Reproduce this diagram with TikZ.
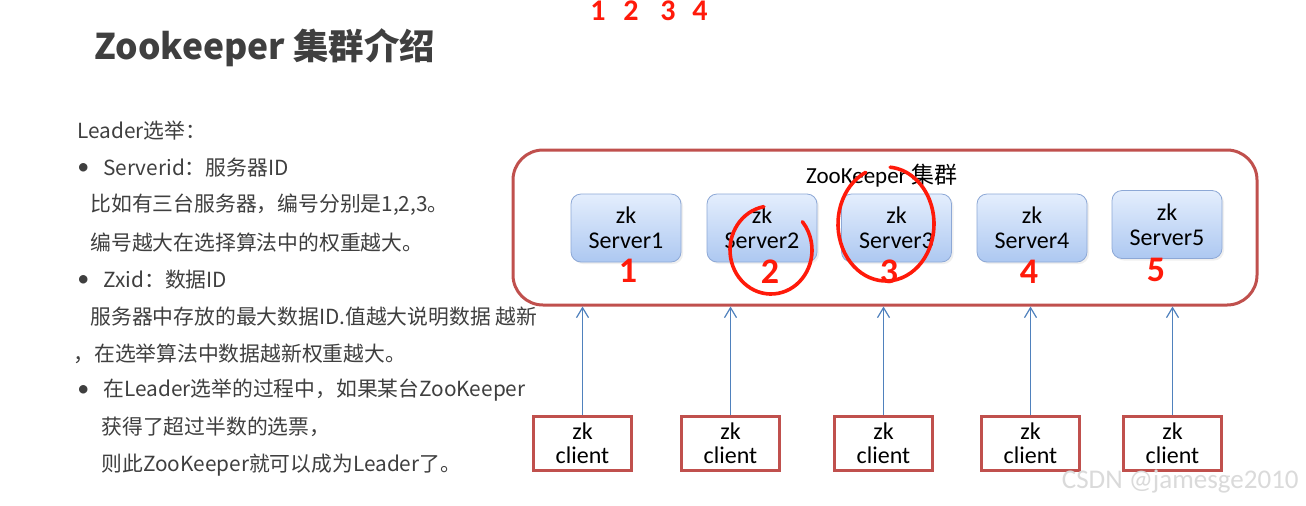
\documentclass[tikz,border=0pt]{standalone}
\usepackage{fontspec}
\setmainfont{Carlito}
\newfontfamily\cjk{Noto Sans CJK SC}
\usetikzlibrary{arrows.meta,positioning,calc,shadows}
\definecolor{ink}{HTML}{3F3F3F}
\definecolor{brick}{HTML}{C0504D}
\definecolor{steel}{HTML}{4F81BD}
\definecolor{skytop}{HTML}{E4EEFD}
\definecolor{skybot}{HTML}{ADC8F1}
\definecolor{skyedge}{HTML}{8DA8D6}
\definecolor{pen}{HTML}{FF1A0A}
\definecolor{mark}{HTML}{DADADA}
\tikzset{
  body/.style={anchor=west,text=ink,inner sep=0pt,font=\cjk\fontsize{10.4}{12}\selectfont},
  dot/.style={anchor=west,text=ink,inner sep=0pt,font=\fontsize{12}{12}\selectfont},
  serverbox/.style={draw=skyedge,top color=skytop,bottom color=skybot,rounded corners=5pt,
    minimum width=55pt,minimum height=34pt,inner sep=0pt,align=center,
    drop shadow={opacity=0.12,shadow xshift=1pt,shadow yshift=-1pt},
    font=\fontsize{12}{12.5}\selectfont},
  clientbox/.style={draw=brick,line width=1.5pt,fill=white,minimum width=49pt,minimum height=27pt,
    inner sep=0pt,align=center,font=\fontsize{12}{12}\selectfont},
  feed/.style={-{Straight Barb[length=5pt,width=6pt]},steel,line width=0.6pt},
  scrawl/.style={text=pen,inner sep=0pt,font=\bfseries\fontsize{18}{18}\selectfont},
  penline/.style={pen,line width=1.8pt,line cap=round}
}
\begin{document}
\begin{tikzpicture}[x=0.5pt,y=-0.5pt]
\useasboundingbox[fill=white] (0,0) rectangle (1306,505);

\node[anchor=west,text=ink,inner sep=0pt,font=\cjk\bfseries\fontsize{17.7}{20}\selectfont] (title) at (94,48) {Zookeeper 集群介绍};

\node[body] (l1) at (77,131) {Leader选举：};
\node[dot] (b1) at (77,169) {•};
\node[body] (l2) at (103,168) {Serverid：服务器ID};
\node[body] (l3) at (90,205) {比如有三台服务器，编号分别是1,2,3。};
\node[body] (l4) at (90,243) {编号越大在选择算法中的权重越大。};
\node[dot] (b2) at (77,281) {•};
\node[body] (l5) at (103,280) {Zxid：数据ID};
\node[body] (l6) at (90,317) {服务器中存放的最大数据ID.值越大说明数据 越新};
\node[body] (l7) at (73,354) {，在选举算法中数据越新权重越大。};
\node[dot] (b3) at (77,391) {•};
\node[body] (l8) at (103,390) {在Leader选举的过程中，如果某台ZooKeeper};
\node[body] (l9) at (101,427) {获得了超过半数的选票，};
\node[body] (l10) at (101,465) {则此ZooKeeper就可以成为Leader了。};

\node[draw=brick,line width=1.5pt,rounded corners=15pt,minimum width=372pt,minimum height=77.5pt,inner sep=0pt] (cluster) at (885,227.5) {};
\node[font=\fontsize{11.5}{12}\selectfont,inner sep=0pt] (ctitle) at (882,176) {ZooKeeper {\cjk 集群}};

\foreach \n/\x/\y in {1/626/228,2/762/228,3/896.5/228,4/1032/228,5/1167/224.5}
  \node[serverbox] (s\n) at (\x,\y) {zk\\Server\n};

\foreach \n/\x in {1/582.5,2/730.5,3/883.5,4/1030.5,5/1172.5}{
  \node[clientbox] (c\n) at (\x,443) {zk\\client};
  \draw[feed] (c\n.north) -- (c\n.north |- cluster.south);
}

\draw[penline] (771,250) ++(-100:41 and 44) arc[start angle=-100,end angle=-400,x radius=41,y radius=44];
\draw[penline] (886,224) ++(-115:48 and 57) arc[start angle=-115,end angle=-445,x radius=48,y radius=57];
\foreach \d/\x/\y in {1/628/271,2/770/272,3/889/272,4/1029/272,5/1156/270}
  \node[scrawl] (h\d) at (\x,\y) {\d};
\foreach \d/\x in {1/598,2/631,3/668,4/700}
  \node[scrawl,font=\bfseries\fontsize{15}{15}\selectfont] (t\d) at (\x,11) {\d};

\node[anchor=east,text=mark,inner sep=0pt,font=\fontsize{13.5}{14}\selectfont] (wm) at (1299,482) {CSDN @jamesge2010};
\end{tikzpicture}
\end{document}
